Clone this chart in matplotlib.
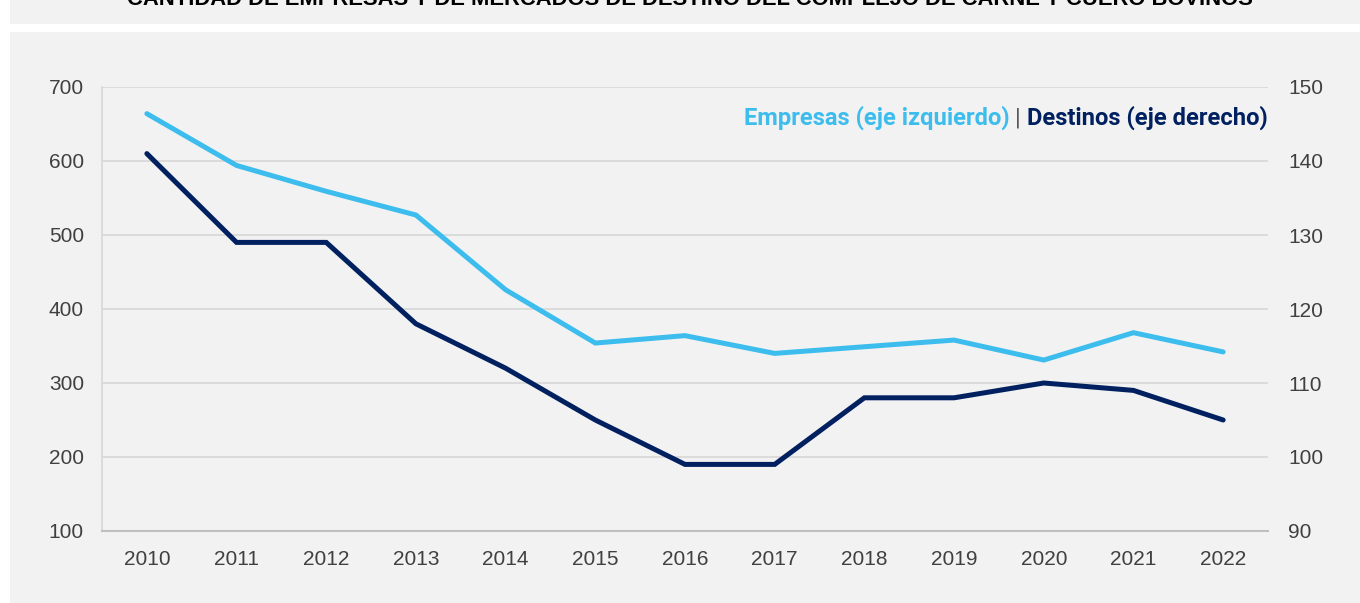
import matplotlib.pyplot as plt
from matplotlib.patches import Rectangle

# datos
anios = [2010, 2011, 2012, 2013, 2014, 2015, 2016, 2017, 2018, 2019, 2020, 2021, 2022]
empresas = [664, 594, 559, 527, 426, 354, 364, 340, 349, 358, 331, 368, 342]
destinos = [141, 129, 129, 118, 112, 105, 99, 99, 108, 108, 110, 109, 105]

celeste = '#3dbded'
azul = '#002060'
gris_txt = '#404040'

W, H = 1360, 603
fig = plt.figure(figsize=(W/100, H/100), dpi=100)
fig.set_facecolor('white')

# paneles de fondo
fig.patches.append(Rectangle((10/W, 1 - 24/H), 1 - 10/W, 24/H, transform=fig.transFigure,
                             facecolor='#f2f2f2', edgecolor='none', zorder=-10))
fig.patches.append(Rectangle((10/W, 0), 1 - 10/W, 1 - 32/H, transform=fig.transFigure,
                             facecolor='#f2f2f2', edgecolor='none', zorder=-10))

# titulo (cortado arriba, como en el original)
fig.text(690/W, 1 - 5/H, 'CANTIDAD DE EMPRESAS Y DE MERCADOS DE DESTINO DEL COMPLEJO DE CARNE Y CUERO BOVINOS',
         ha='center', va='baseline', fontsize=15.8, fontweight='bold',
         family='Liberation Sans', color='black')

ax = fig.add_axes([102/W, 1 - 531/H, (1268 - 102)/W, (531 - 87)/H])
ax.set_facecolor('none')
ax2 = ax.twinx()
ax2.set_facecolor('none')

ax.plot(anios, empresas, color=celeste, lw=3.6, solid_capstyle='round', solid_joinstyle='miter')
ax2.plot(anios, destinos, color=azul, lw=3.6, solid_capstyle='round', solid_joinstyle='miter')

ax.set_xlim(2009.5, 2022.5)
ax.set_ylim(100, 700)
ax2.set_ylim(90, 150)
ax.set_xticks(anios)
ax.set_yticks(range(100, 701, 100))
ax2.set_yticks(range(90, 151, 10))

ax.grid(axis='y', color='#d9d9d9', lw=1.3)
ax.set_axisbelow(True)

for a in (ax, ax2):
    for s in a.spines.values():
        s.set_visible(False)
ax.spines['left'].set_visible(True)
ax.spines['left'].set_color('#d9d9d9')
ax.spines['left'].set_linewidth(1.3)
ax.spines['bottom'].set_visible(True)
ax.spines['bottom'].set_color('#bfbfbf')
ax.spines['bottom'].set_linewidth(1.5)

for lab in ax.get_xticklabels() + ax.get_yticklabels() + ax2.get_yticklabels():
    lab.set_family('Liberation Sans')
ax.tick_params(axis='x', length=0, pad=14, labelsize=15, labelcolor=gris_txt)
ax.tick_params(axis='y', length=0, pad=13, labelsize=15, labelcolor=gris_txt)
ax2.tick_params(axis='y', length=0, pad=14.5, labelsize=15, labelcolor=gris_txt)

# leyenda en texto
yl = 0.93
t3 = ax.text(1.0, yl, 'Destinos (eje derecho)', transform=ax.transAxes, ha='right', va='center',
             fontsize=17.1, fontweight='bold', family='Roboto', color=azul)
fig.canvas.draw()
bb = t3.get_window_extent()
inv = ax.transAxes.inverted()
x_pipe = inv.transform((bb.x0 - 6, 0))[0]
t2 = ax.text(x_pipe, yl, '|', transform=ax.transAxes, ha='right', va='center',
             fontsize=17.1, family='Roboto', color='#595959')
fig.canvas.draw()
bb2 = t2.get_window_extent()
x_emp = inv.transform((bb2.x0 - 6, 0))[0]
ax.text(x_emp, yl, 'Empresas (eje izquierdo)', transform=ax.transAxes, ha='right', va='center',
        fontsize=17.1, fontweight='bold', family='Roboto', color=celeste)

fig.savefig('out.png', dpi=100)
